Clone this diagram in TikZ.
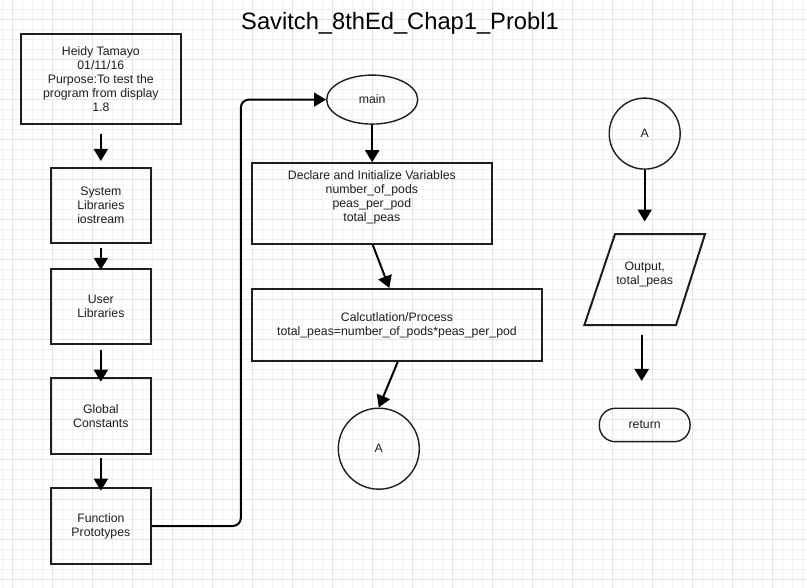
\documentclass[tikz,border=0pt]{standalone}
\usepackage{fontspec}
\setmainfont{Liberation Sans}
\usetikzlibrary{arrows.meta,shapes.geometric}
\definecolor{gridminor}{RGB}{241,241,247}
\definecolor{gridmajor}{RGB}{227,227,237}
\definecolor{ink}{RGB}{30,30,30}
\begin{document}
\begin{tikzpicture}[x=1pt,y=-1pt,
  every node/.style={font=\fontsize{12.3}{14}\selectfont, text=ink, align=center, inner sep=0pt},
  box/.style={draw=ink, line width=2pt, rectangle},
  thin shape/.style={draw=ink, line width=1.4pt},
  arr/.style={draw=black, line width=2pt, -{Triangle[length=12pt,width=14pt]}},
  gmin/.style={draw=gridminor, line width=1pt},
  gmaj/.style={draw=gridmajor, line width=1pt}]
\useasboundingbox (0,0) rectangle (807,588);
\fill[white] (0,0) rectangle (807,588);
\begin{scope}
\clip (0,0) rectangle (807,588);
\foreach \i in {0,...,80} {\draw[gmin] ({2.7+10*\i},0) -- ({2.7+10*\i},588);}
\foreach \i in {0,...,58} {\draw[gmin] (0,{9.3+10*\i}) -- (807,{9.3+10*\i});}
\foreach \i in {0,...,20} {\draw[gmaj] ({12.7+40*\i},0) -- ({12.7+40*\i},588);}
\foreach \i in {0,...,14} {\draw[gmaj] (0,{19.3+40*\i}) -- (807,{19.3+40*\i});}
\end{scope}

% title
\node[font=\fontsize{23.7}{28}\selectfont, text=black, anchor=base] (title) at (400,29.3) {Savitch\_8thEd\_Chap1\_Probl1};

% left column
\node[box, minimum width=160pt, minimum height=90pt] (hdr) at (100.85,79.3)
  {Heidy Tamayo\\01/11/16\\Purpose:To test the\\program from display\\1.8};
\node[box, minimum width=100pt, minimum height=75pt] (sys) at (100.85,205.5)
  {System\\Libraries\\iostream};
\node[box, minimum width=100pt, minimum height=75pt] (user) at (100.85,306.3)
  {User\\Libraries};
\node[box, minimum width=100pt, minimum height=76pt] (glob) at (100.85,416)
  {Global\\Constants};
\node[box, minimum width=100pt, minimum height=76pt] (func) at (100.85,526)
  {Function\\Prototypes};

% middle column
\node[thin shape, ellipse, minimum width=91pt, minimum height=49pt] (main) at (372.2,99.6) {main};
\node[box, minimum width=240pt, minimum height=80.5pt] (decl) at (371.85,203.5) {};
\node (declt) at (371.85,197.2)
  {Declare and Initialize Variables\\number\_of\_pods\\peas\_per\_pod\\total\_peas};
\node[box, minimum width=290.6pt, minimum height=72pt] (calc) at (397,325)
  {Calcutlation/Process\\total\_peas=number\_of\_pods*peas\_per\_pod};
\node[thin shape, circle, minimum size=81pt] (A1) at (378.8,448.7) {A};

% right column
\node[thin shape, circle, minimum size=71pt] (A2) at (644.7,133.6) {A};
\node[minimum width=121pt, minimum height=90.7pt] (out) at (644.7,279.7) {};
\draw[draw=ink, line width=2pt, line join=miter]
  ([xshift=-29.7pt]out.north) -- ([xshift=60.3pt]out.north) --
  ([xshift=31.3pt]out.south) -- ([xshift=-60.4pt]out.south) -- cycle;
\node (outt) at (644.7,274.5) {Output,\\total\_peas};
\node[thin shape, rounded corners=16pt, minimum width=90.7pt, minimum height=33.4pt] (ret) at (644.7,425) {return};

% connectors
\draw[arr] ([yshift=-9pt]hdr.south) -- ([yshift=6pt]sys.north);
\draw[arr] ([yshift=-4pt]sys.south) -- ([yshift=-2pt]user.north);
\draw[arr] ([yshift=-5pt]user.south) -- ([yshift=-4.7pt]glob.north);
\draw[arr] ([yshift=-3pt]glob.south) -- ([yshift=-3.7pt]func.north);
\draw[arr, rounded corners=8pt] (func.east) -- ++(89,0) |- (main.west);
\draw[arr] (main.south) -- (main.south |- decl.north);
\draw[arr] ([xshift=0.85pt]decl.south) -- ([xshift=-7.7pt]calc.north);
\draw[arr] ([xshift=0.7pt]calc.south) -- (A1.north);
\draw[arr] (A2.south) -- ([yshift=12.6pt]out.north);
\draw[arr] ([shift={(-3pt,-9.3pt)}]out.south) -- ([shift={(-3pt,26.6pt)}]ret.north);
\end{tikzpicture}
\end{document}
